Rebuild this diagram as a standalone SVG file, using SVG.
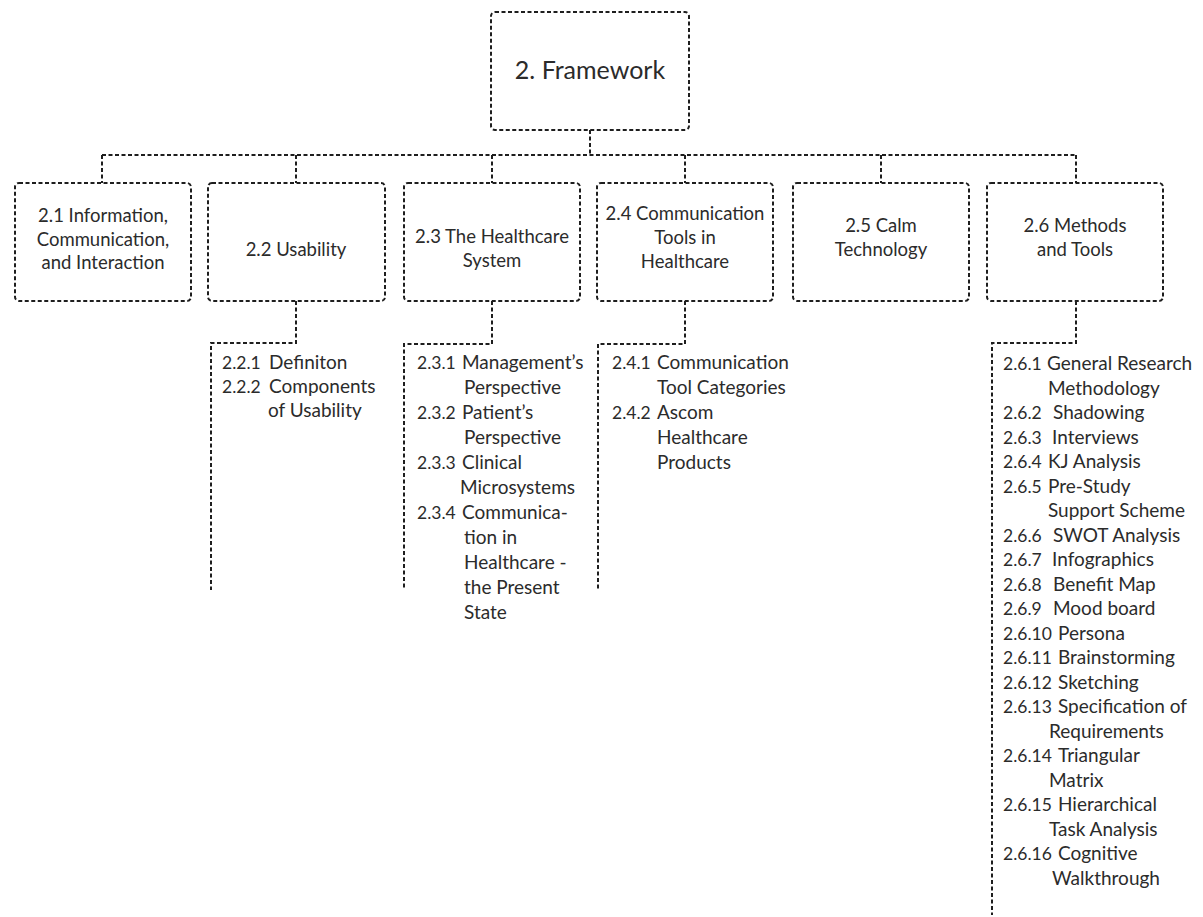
<svg xmlns="http://www.w3.org/2000/svg" width="1203" height="917" viewBox="0 0 1203 917">
  <style>
    .box { fill: none; stroke: #1e1e1e; stroke-width: 2; stroke-dasharray: 4 2.5; }
    .link { fill: none; stroke: #1e1e1e; stroke-width: 2; stroke-dasharray: 4 2.5; }
    text { font-family: Lato, "Open Sans", "Liberation Sans", sans-serif; fill: #2b2b2b; }
    .root { font-size: 25px; text-anchor: middle; }
    .sec { font-size: 18.5px; text-anchor: middle; }
    .item { font-size: 19px; }
    .num { font-size: 17.5px; }
  </style>
  <rect width="1203" height="917" fill="#ffffff"/>

  <!-- connectors -->
  <g id="connectors">
    <path class="link" d="M590 130 V155"/>
    <path class="link" d="M102 155 H1076"/>
    <path class="link" d="M102 155 V183 M296 155 V183 M492 155 V183 M685 155 V183 M881 155 V183 M1076 155 V183"/>
    <path class="link" d="M296 301 V343 H211 V590"/>
    <path class="link" d="M492 301 V344 H404 V588"/>
    <path class="link" d="M685 301 V344 H598 V590"/>
    <path class="link" d="M1076 301 V343 H992 V915"/>
  </g>

  <g id="framework">
    <rect class="box" x="491" y="12" width="198" height="118" rx="4"/>
    <text class="root" x="590" y="79">2. Framework</text>
  </g>

  <g id="sec-2-1">
    <rect class="box" x="15" y="183" width="176" height="118" rx="4"/>
    <text class="sec" x="103" y="222">2.1 Information,</text>
    <text class="sec" x="103" y="246">Communication,</text>
    <text class="sec" x="103" y="269">and Interaction</text>
  </g>

  <g id="sec-2-2">
    <rect class="box" x="208" y="183" width="177" height="118" rx="4"/>
    <text class="sec" x="296" y="256">2.2 Usability</text>
  </g>

  <g id="sec-2-3">
    <rect class="box" x="404" y="183" width="176" height="118" rx="4"/>
    <text class="sec" x="492" y="243">2.3 The Healthcare</text>
    <text class="sec" x="492" y="267">System</text>
  </g>

  <g id="sec-2-4">
    <rect class="box" x="597" y="183" width="176" height="118" rx="4"/>
    <text class="sec" x="685" y="220">2.4 Communication</text>
    <text class="sec" x="685" y="244">Tools in</text>
    <text class="sec" x="685" y="268">Healthcare</text>
  </g>

  <g id="sec-2-5">
    <rect class="box" x="793" y="183" width="176" height="118" rx="4"/>
    <text class="sec" x="881" y="232">2.5 Calm</text>
    <text class="sec" x="881" y="256">Technology</text>
  </g>

  <g id="sec-2-6">
    <rect class="box" x="987" y="183" width="176" height="118" rx="4"/>
    <text class="sec" x="1075" y="232">2.6 Methods</text>
    <text class="sec" x="1075" y="256">and Tools</text>
  </g>

  <!-- sub-section lists -->
  <g id="list-2-2">
    <text class="item num" x="222" y="369">2.2.1</text><text class="item" x="269" y="369">Definiton</text>
    <text class="item num" x="222" y="393">2.2.2</text><text class="item" x="269" y="393">Components</text>
    <text class="item" x="268" y="417">of Usability</text>
  </g>

  <g id="list-2-3">
    <text class="item num" x="417" y="369">2.3.1</text><text class="item" x="462" y="369">Management’s</text>
    <text class="item" x="464" y="394">Perspective</text>
    <text class="item num" x="417" y="419">2.3.2</text><text class="item" x="462" y="419">Patient’s</text>
    <text class="item" x="464" y="444">Perspective</text>
    <text class="item num" x="417" y="469">2.3.3</text><text class="item" x="462" y="469">Clinical</text>
    <text class="item" x="460" y="494">Microsystems</text>
    <text class="item num" x="417" y="519">2.3.4</text><text class="item" x="462" y="519">Communica-</text>
    <text class="item" x="464" y="544">tion in</text>
    <text class="item" x="464" y="569">Healthcare -</text>
    <text class="item" x="464" y="594">the Present</text>
    <text class="item" x="464" y="619">State</text>
  </g>

  <g id="list-2-4">
    <text class="item num" x="612" y="369">2.4.1</text><text class="item" x="657" y="369">Communication</text>
    <text class="item" x="657" y="394">Tool Categories</text>
    <text class="item num" x="612" y="419">2.4.2</text><text class="item" x="657" y="419">Ascom</text>
    <text class="item" x="657" y="444">Healthcare</text>
    <text class="item" x="657" y="469">Products</text>
  </g>

  <g id="list-2-6">
    <text class="item num" x="1003" y="370">2.6.1</text><text class="item" x="1047" y="370">General Research</text>
    <text class="item" x="1048" y="394.5">Methodology</text>
    <text class="item num" x="1003" y="419">2.6.2</text><text class="item" x="1053" y="419">Shadowing</text>
    <text class="item num" x="1003" y="443.5">2.6.3</text><text class="item" x="1052" y="443.5">Interviews</text>
    <text class="item num" x="1003" y="468">2.6.4</text><text class="item" x="1048" y="468">KJ Analysis</text>
    <text class="item num" x="1003" y="492.5">2.6.5</text><text class="item" x="1048" y="492.5">Pre-Study</text>
    <text class="item" x="1048" y="517">Support Scheme</text>
    <text class="item num" x="1003" y="541.5">2.6.6</text><text class="item" x="1053" y="541.5">SWOT Analysis</text>
    <text class="item num" x="1003" y="566">2.6.7</text><text class="item" x="1052" y="566">Infographics</text>
    <text class="item num" x="1003" y="590.5">2.6.8</text><text class="item" x="1053" y="590.5">Benefit Map</text>
    <text class="item num" x="1003" y="615">2.6.9</text><text class="item" x="1053" y="615">Mood board</text>
    <text class="item num" x="1003" y="639.5">2.6.10</text><text class="item" x="1058" y="639.5">Persona</text>
    <text class="item num" x="1003" y="664">2.6.11</text><text class="item" x="1058" y="664">Brainstorming</text>
    <text class="item num" x="1003" y="688.5">2.6.12</text><text class="item" x="1058" y="688.5">Sketching</text>
    <text class="item num" x="1003" y="713">2.6.13</text><text class="item" x="1058" y="713">Specification of</text>
    <text class="item" x="1049" y="737.5">Requirements</text>
    <text class="item num" x="1003" y="762">2.6.14</text><text class="item" x="1058" y="762">Triangular</text>
    <text class="item" x="1049" y="786.5">Matrix</text>
    <text class="item num" x="1003" y="811">2.6.15</text><text class="item" x="1058" y="811">Hierarchical</text>
    <text class="item" x="1049" y="835.5">Task Analysis</text>
    <text class="item num" x="1003" y="860">2.6.16</text><text class="item" x="1058" y="860">Cognitive</text>
    <text class="item" x="1052" y="884.5">Walkthrough</text>
  </g>
</svg>
